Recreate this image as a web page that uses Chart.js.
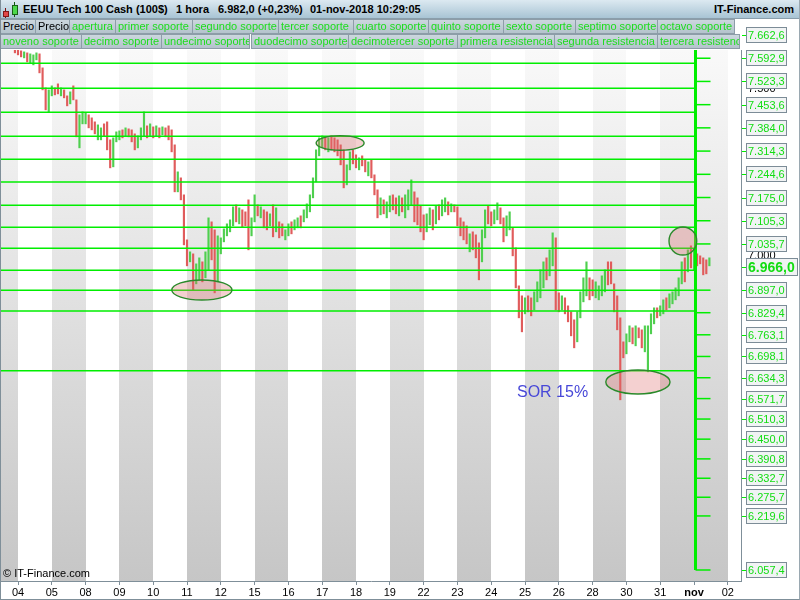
<!DOCTYPE html>
<html><head><meta charset="utf-8">
<script src="https://cdn.jsdelivr.net/npm/chart.js@4.4.0/dist/chart.umd.min.js"></script>
<style>
html,body{margin:0;padding:0;width:800px;height:600px;overflow:hidden;background:#fff;font-family:"Liberation Sans",Arial,sans-serif;}
#wrap{position:relative;width:800px;height:600px;}
#c{position:absolute;left:0;top:0;}
#hdr{position:absolute;left:0;top:0;width:800px;height:19px;background:linear-gradient(#dce9f1,#a8c4d4);border-bottom:1px solid #8a9eab;box-sizing:border-box;}
.ht{position:absolute;top:3px;font-weight:bold;font-size:11px;line-height:13px;color:#000;white-space:pre;}
.ic{position:absolute;box-sizing:border-box;}
.lg{position:absolute;height:15px;box-sizing:border-box;background:linear-gradient(#ccd7de,#b4c3cc);border:1px solid #8d9da8;font-size:11px;line-height:13px;padding-left:2px;color:#1ddd1d;white-space:nowrap;overflow:hidden;}
.lg.k{color:#000;}
#frame{position:absolute;left:0;top:0;width:800px;height:600px;box-sizing:border-box;border-left:1px solid #7f8f99;border-right:1px solid #9aa8b1;border-bottom:1px solid #7f8f99;pointer-events:none;}
#sor{position:absolute;left:517px;top:383px;font-size:16px;line-height:18px;color:#4848d8;}
#copy{position:absolute;left:3px;top:567px;font-size:11px;line-height:13px;color:#000;}
</style></head>
<body>
<div id="wrap">
<canvas id="c" width="800" height="600"></canvas>
<div id="hdr">
  <div class="ic" style="left:5px;top:8px;width:1px;height:10px;background:#7a1010"></div>
  <div class="ic" style="left:3px;top:11px;width:6px;height:6px;background:#e04848;border:1px solid #801818"></div>
  <div class="ic" style="left:14px;top:2px;width:1px;height:15px;background:#105a10"></div>
  <div class="ic" style="left:12px;top:5px;width:6px;height:10px;background:#4cd84c;border:1px solid #186018"></div>
  <span class="ht" style="left:23px">EEUU Tech 100 Cash (100$)</span>
  <span class="ht" style="left:176px">1 hora</span>
  <span class="ht" style="left:218px">6.982,0 (+0,23%)</span>
  <span class="ht" style="left:310px">01-nov-2018 10:29:05</span>
  <span class="ht" style="right:6px">IT-Finance.com</span>
</div>
<div id="legend"></div>
<div id="sor">SOR 15%</div>
<div id="copy">© IT-Finance.com</div>
<div id="frame"></div>
</div>
<script>
// ---------------- DATA ----------------
const dayLabels = ['04','05','08','09','10','11','12','15','16','17','18','19','22','23','24','25','26','28','30','31','nov','02'];
const shadedDays = [-1,1,3,5,7,9,11,13,15,17,19,20];
const barsPerDay = 11;
const firstSlot = -1;

const high = [
7627,7618,7615,7612,7609,7606,7603,7609,7606,7564,7504,7498,
7510,7504,7516,7504,7498,7480,7492,7510,7468,7423,7432,
7429,7423,7414,7402,7393,7384,7396,7402,7348,7354,7372,
7375,7378,7384,7381,7378,7366,7360,7384,7432,7390,7396,
7387,7390,7384,7387,7384,7390,7378,7333,7252,7234,7183,
7048,7012,7006,6976,6994,6982,7012,7114,7102,7078,7060,
7054,7081,7096,7108,7147,7153,7144,7138,7132,7168,7114,
7183,7153,7147,7138,7132,7126,7153,7144,7102,7096,7078,
7096,7102,7108,7114,7120,7138,7156,7183,7234,7318,7354,
7360,7357,7354,7360,7354,7348,7333,7318,7273,7312,7318,
7303,7294,7300,7288,7282,7288,7243,7198,7174,7168,7162,
7180,7183,7174,7180,7174,7183,7198,7228,7192,7174,7150,
7123,7126,7144,7138,7150,7153,7168,7174,7162,7156,7153,
7147,7114,7102,7090,7066,7072,7063,7039,7078,7138,7150,
7132,7138,7159,7144,7114,7120,7132,7084,7024,6910,6880,
6874,6880,6874,6892,6922,6958,6982,6994,7018,7069,7054,
6889,6880,6874,6850,6832,6808,6832,6892,6934,6982,6934,
6928,6922,6910,6940,6958,6982,6982,6916,6880,6814,6742,
6766,6790,6784,6790,6784,6778,6790,6790,6826,6844,6844,
6850,6868,6874,6886,6892,6904,6934,6982,6994,7018,7030,
7018,7006,7000,6994,6988,6994];
const low = [
7609,7603,7597,7594,7582,7579,7573,7588,7549,7498,7438,7432,
7480,7483,7486,7480,7474,7450,7456,7468,7357,7324,7396,
7396,7384,7378,7366,7348,7348,7360,7318,7264,7267,7342,
7348,7354,7360,7357,7342,7318,7324,7348,7360,7354,7360,
7354,7360,7354,7363,7357,7348,7312,7192,7192,7168,7033,
6970,6982,6898,6916,6928,6922,6934,6958,6988,6889,6922,
7006,7042,7060,7072,7090,7102,7096,7087,7090,7018,7060,
7102,7120,7114,7084,7078,7090,7057,7072,7054,7060,7048,
7060,7066,7078,7084,7084,7102,7114,7132,7174,7222,7300,
7324,7318,7312,7318,7312,7300,7273,7204,7213,7258,7276,
7264,7258,7270,7252,7240,7234,7183,7114,7123,7126,7114,
7132,7138,7126,7120,7132,7114,7138,7153,7102,7093,7072,
7048,7072,7093,7078,7096,7108,7120,7132,7123,7132,7132,
7090,7060,7048,7036,7012,7018,6994,6928,6982,7054,7096,
7090,7096,7108,7096,7042,7060,7078,7000,6904,6814,6772,
6826,6832,6820,6838,6862,6874,6904,6928,6940,6970,6838,
6832,6838,6826,6802,6760,6724,6742,6814,6862,6880,6868,
6880,6874,6868,6880,6892,6913,6916,6832,6778,6568,6694,
6706,6742,6736,6730,6754,6724,6712,6652,6766,6796,6814,
6820,6826,6838,6844,6856,6868,6880,6916,6922,6952,6964,
6958,6970,6976,6943,6946,6970];
const open = [
7621,7612,7609,7600,7603,7585,7579,7594,7600,7558,7498,7438,
7486,7498,7510,7486,7492,7474,7462,7504,7462,7330,7402,
7402,7417,7408,7396,7354,7354,7390,7396,7342,7273,7348,
7354,7372,7366,7375,7372,7360,7330,7354,7366,7384,7366,
7381,7366,7378,7369,7378,7384,7372,7327,7198,7228,7177,
7042,6988,7000,6922,6934,6976,6940,6964,7096,7072,6928,
7012,7048,7066,7078,7096,7147,7102,7132,7126,7162,7066,
7108,7147,7120,7132,7126,7096,7147,7078,7096,7090,7054,
7066,7096,7084,7090,7114,7108,7120,7138,7180,7228,7306,
7330,7351,7318,7354,7348,7342,7327,7312,7219,7264,7312,
7297,7264,7294,7282,7246,7282,7237,7192,7129,7162,7120,
7138,7177,7168,7126,7168,7120,7144,7159,7186,7168,7144,
7117,7078,7099,7132,7102,7147,7126,7138,7156,7138,7147,
7141,7108,7096,7084,7018,7066,7057,7033,6988,7060,7144,
7126,7102,7114,7138,7108,7066,7084,7078,7018,6904,6874,
6832,6874,6868,6844,6868,6880,6910,6988,6946,6976,7048,
6883,6844,6868,6844,6826,6802,6748,6820,6868,6886,6928,
6922,6880,6874,6886,6898,6976,6976,6910,6874,6808,6736,
6712,6748,6778,6736,6778,6772,6718,6658,6772,6802,6838,
6826,6832,6868,6850,6862,6874,6886,6922,6988,6958,7024,
6964,7000,6994,6988,6982,6976];
const close = [
7615,7609,7603,7606,7588,7600,7597,7603,7555,7504,7444,7492,
7504,7489,7492,7498,7480,7456,7486,7474,7363,7417,7426,
7423,7390,7384,7372,7387,7378,7366,7324,7270,7348,7366,
7369,7360,7378,7363,7348,7324,7354,7378,7426,7360,7390,
7360,7384,7360,7381,7363,7354,7318,7198,7246,7174,7039,
6976,7006,6904,6970,6988,6928,7006,7108,6994,6895,7054,
7048,7075,7090,7102,7141,7108,7138,7093,7096,7024,7108,
7177,7126,7141,7090,7084,7120,7063,7138,7060,7066,7072,
7090,7072,7102,7108,7090,7132,7150,7177,7228,7312,7348,
7354,7324,7348,7324,7318,7306,7279,7210,7267,7306,7282,
7270,7288,7276,7258,7276,7240,7189,7120,7168,7132,7156,
7174,7144,7132,7174,7138,7177,7192,7222,7108,7099,7078,
7054,7120,7138,7084,7144,7114,7162,7168,7129,7150,7138,
7096,7066,7054,7042,7060,7024,7000,6934,7072,7132,7102,
7096,7132,7153,7102,7048,7114,7126,7006,6910,6820,6778,
6868,6838,6826,6886,6916,6952,6976,6934,7012,7063,6844,
6838,6874,6832,6808,6766,6730,6826,6886,6928,6976,6874,
6886,6916,6904,6934,6952,6919,6922,6838,6784,6574,6700,
6760,6784,6742,6784,6760,6730,6784,6784,6820,6838,6820,
6844,6862,6844,6880,6886,6898,6928,6976,6928,7012,6970,
7012,6976,6982,6949,6952,6988];

// support / resistance levels drawn on the chart
const levels = [7577.7,7502.7,7430.7,7358.7,7289.7,7221.6,7151.6,7085.6,7022.6,6956.6,6896.6,6834.5,6655.6];
// right-axis level labels
const rightLabels = [7662.6,7592.9,7523.3,7453.6,7384.0,7314.3,7244.6,7175.0,7105.3,7035.7,6897.0,6829.4,6763.1,6698.1,6634.3,6571.7,6510.3,6450.0,6390.8,6332.7,6275.7,6219.6,6057.4];
const currentPrice = 6966.0;
const yTickValues = [6500,7000,7500];
const vLineDay = 20.044;

// annotation ellipses (centre day, centre price, half-width in days, half-height in points)
const ellDay   = [5.44, 9.53, 18.34, 19.67];
const ellPrice = [6897.5, 7338.6, 6621.5, 7044.5];
const ellRx    = [0.89, 0.71, 0.95, 0.41];
const ellRy    = [30, 22, 36, 42];

const legendRow1 = ['Precio','Precio','apertura','primer soporte','segundo soporte','tercer soporte','cuarto soporte','quinto soporte','sexto soporte','septimo soporte','octavo soporte'];
const legendRow2 = ['noveno soporte','decimo soporte','undecimo soporte','duodecimo soporte','decimotercer soporte','primera resistencia','segunda resistencia','tercera resistencia'];

// ---------------- LAYOUT / STYLE ----------------
const legendLayout1 = [[0,36],[35,35],[69,47],[115,78],[192,87],[278,76],[353,76],[428,76],[503,73],[575,83],[657,78]];
const legendLayout2 = [[0,82],[81,81],[161,89],[251,98],[348,110],[457,98],[554,104],[657,83]];
const X_MIN = -0.503, X_MAX = 21.39, Y_MIN = 6024.4, Y_MAX = 7617.6;
const UP = '#4fcf4f', DOWN = '#e05c5c', GREEN = '#00ee00';

(function buildLegend(){
  const host = document.getElementById('legend');
  const add = (name, lay, top, black) => {
    const d = document.createElement('div');
    d.className = 'lg' + (black ? ' k' : '');
    d.style.left = lay[0] + 'px'; d.style.top = top + 'px'; d.style.width = lay[1] + 'px';
    d.textContent = name; host.appendChild(d);
  };
  legendRow1.forEach((n, i) => add(n, legendLayout1[i], 19, i < 2));
  legendRow2.forEach((n, i) => add(n, legendLayout2[i], 34, false));
})();

function fmt(v, dec){
  const s = v.toFixed(dec); let [ip, dp] = s.split('.');
  ip = ip.replace(/\B(?=(\d{3})+(?!\d))/g, '.');
  return dp ? ip + ',' + dp : ip;
}

const barData = high.map((h, i) => ({x: (i + firstSlot) / barsPerDay, y: [low[i], h]}));
const barColors = close.map((c, i) => c >= open[i] ? UP : DOWN);

const datasets = [{
  type: 'bar', data: barData, backgroundColor: barColors, borderWidth: 0,
  barThickness: 1.5, grouped: false, order: 5
}];
levels.forEach(v => datasets.push({
  type: 'line', data: [{x: X_MIN, y: v}, {x: vLineDay, y: v}],
  borderColor: GREEN, borderWidth: 1.5, pointRadius: 0, order: 2
}));
datasets.push({
  type: 'line', data: [{x: vLineDay, y: rightLabels[0]}, {x: vLineDay, y: rightLabels[rightLabels.length - 1]}],
  borderColor: GREEN, borderWidth: 3, pointRadius: 0, order: 1
});

Chart.defaults.font.family = '"Liberation Sans", Arial, sans-serif';

const overlay = {
  id: 'overlay',
  beforeDraw(chart){
    const {ctx, chartArea: a, scales: {x}} = chart;
    ctx.save();
    const g = ctx.createLinearGradient(0, a.top, 0, a.bottom);
    g.addColorStop(0, '#f9f9f9'); g.addColorStop(1, '#c6c6c6');
    ctx.fillStyle = g;
    shadedDays.forEach(d => {
      const x0 = Math.round(Math.max(a.left, x.getPixelForValue(d)));
      const x1 = Math.round(Math.min(a.right, x.getPixelForValue(d + 1)));
      ctx.fillRect(x0, a.top, x1 - x0, a.bottom - a.top);
    });
    ctx.restore();
  },
  afterDatasetsDraw(chart){
    const {ctx, chartArea: a, scales: {x, y}} = chart;
    ctx.save();
    ctx.strokeStyle = GREEN; ctx.lineWidth = 1.5;
    const vx = x.getPixelForValue(vLineDay);
    rightLabels.forEach(v => {
      const py = y.getPixelForValue(v);
      if (py < a.top) return;
      ctx.beginPath(); ctx.moveTo(vx, py); ctx.lineTo(vx + 15, py); ctx.stroke();
    });
    ellDay.forEach((d, i) => {
      const cx = x.getPixelForValue(d), cy = y.getPixelForValue(ellPrice[i]);
      const rx = x.getPixelForValue(d + ellRx[i]) - cx;
      const ry = y.getPixelForValue(ellPrice[i] - ellRy[i]) - cy;
      ctx.beginPath(); ctx.ellipse(cx, cy, rx, ry, 0, 0, Math.PI * 2);
      ctx.fillStyle = 'rgba(222,110,110,0.32)'; ctx.fill();
      ctx.strokeStyle = '#2b8a2b'; ctx.lineWidth = 1.4; ctx.stroke();
    });
    ctx.restore();
  },
  afterDraw(chart){
    const {ctx, chartArea: a, scales: {y}} = chart;
    ctx.save();
    ctx.textBaseline = 'middle'; ctx.textAlign = 'left';
    const drawBox = (v, w, h, font) => {
      const py = Math.round(y.getPixelForValue(v));
      ctx.strokeStyle = GREEN; ctx.lineWidth = 1;
      ctx.beginPath(); ctx.moveTo(a.right + 1, py + 0.5); ctx.lineTo(a.right + 5, py + 0.5); ctx.stroke();
      ctx.fillStyle = '#f1f3f4';
      ctx.fillRect(a.right + 5, py - Math.floor(h / 2), w, h);
      ctx.strokeStyle = '#7c8c97';
      ctx.strokeRect(a.right + 5.5, py - Math.floor(h / 2) + 0.5, w - 1, h - 1);
      ctx.fillStyle = '#12dd12'; ctx.font = font;
      ctx.fillText(fmt(v, 1), a.right + 7, py + 1);
    };
    rightLabels.forEach(v => drawBox(v, 41, 16, '11px "Liberation Sans", Arial'));
    drawBox(currentPrice, 52, 18, 'bold 14px "Liberation Sans", Arial');
    ctx.restore();
  }
};

new Chart(document.getElementById('c'), {
  type: 'bar',
  data: {datasets},
  options: {
    responsive: false, animation: false,
    layout: {padding: {left: 1, top: 50, right: 0, bottom: 0}},
    plugins: {legend: {display: false}, tooltip: {enabled: false}},
    scales: {
      x: {
        type: 'linear', min: X_MIN, max: X_MAX, offset: false,
        afterFit: s => { s.height = 19; },
        afterBuildTicks: s => { s.ticks = dayLabels.map((_, i) => ({value: i})); },
        grid: {drawOnChartArea: false, drawTicks: true, tickLength: 4, color: '#7f8f99', offset: false},
        border: {display: true, color: '#7f8f99'},
        ticks: {
          autoSkip: false, maxRotation: 0, padding: 1, color: '#000',
          font: c => ({size: 11, weight: (c.tick && dayLabels[c.tick.value] === 'nov') ? 'bold' : 'normal'}),
          callback: v => dayLabels[v]
        }
      },
      y: {
        type: 'linear', position: 'right', min: Y_MIN, max: Y_MAX,
        afterFit: s => { s.width = 59; },
        afterBuildTicks: s => { s.ticks = yTickValues.map(v => ({value: v})); },
        grid: {drawOnChartArea: false, drawTicks: false},
        border: {display: true, color: '#7f8f99'},
        ticks: {padding: 7, color: '#000', font: {size: 11}, callback: v => fmt(v, 0)}
      }
    }
  },
  plugins: [overlay]
});
</script>
</body></html>
